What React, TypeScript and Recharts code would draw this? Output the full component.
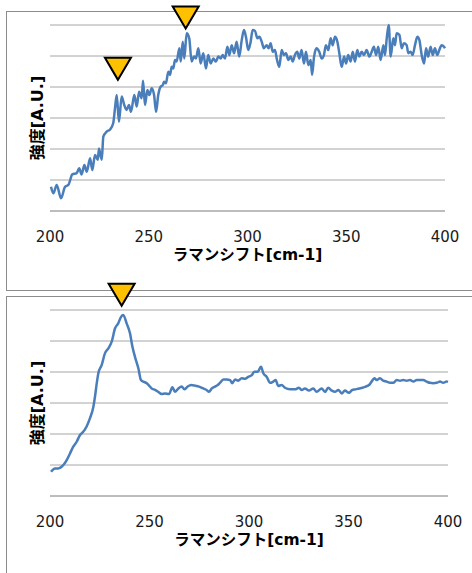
import React from 'react';
import { LineChart, Line, XAxis, YAxis, ReferenceLine, ReferenceDot, Label } from 'recharts';

const xTicks = [200, 250, 300, 350, 400];
const yTicks = [0, 1, 2, 3, 4, 5, 6];
const xTitle = 'ラマンシフト[cm-1]';
const yTitle = '強度[A.U.]';

// upper spectrum
const topShift = [
  200.5, 201.7, 203.4, 205.6, 207.6, 209.3, 211.3, 213.5, 214.8, 216.0, 217.4, 218.6, 220.3, 221.4, 222.8,
  224.2, 224.8, 226.2, 227.0, 228.7, 230.4, 232.0, 232.9, 233.8, 234.9, 236.3, 237.6, 238.8, 240.0, 241.0,
  242.7, 243.9, 245.1, 246.4, 247.1, 248.1, 249.3, 250.3, 251.5, 252.7, 253.7, 254.8, 256.0, 257.1, 257.7,
  258.7, 259.9, 260.8, 261.6, 262.4, 263.3, 264.1, 265.5, 266.2, 267.2, 268.0, 269.2, 270.5, 271.7, 272.9,
  273.9, 275.1, 276.3, 277.6, 279.0, 280.1, 281.4, 282.7, 284.0, 285.2, 286.4, 287.4, 288.6, 289.8, 290.8,
  292.0, 293.2, 294.5, 295.8, 297.1, 298.2, 299.2, 300.4, 301.6, 302.6, 303.8, 305.0, 306.0, 307.2, 308.3,
  309.7, 310.7, 311.7, 312.8, 313.9, 314.8, 316.1, 317.3, 318.5, 319.5, 320.7, 321.9, 322.9, 324.0, 325.2,
  326.2, 327.4, 328.6, 329.6, 330.8, 332.0, 332.7, 333.7, 335.0, 336.3, 337.6, 338.7, 339.7, 340.9, 342.1,
  343.1, 344.3, 345.5, 346.5, 347.7, 348.9, 349.9, 351.0, 352.2, 353.3, 354.4, 355.6, 356.6, 357.8, 359.0,
  360.3, 361.7, 362.9, 364.0, 365.1, 366.2, 367.4, 368.8, 369.6, 370.5, 371.5, 372.5, 373.8, 374.7, 375.5,
  376.9, 378.1, 379.2, 380.6, 381.4, 382.6, 383.6, 384.8, 386.0, 387.0, 388.2, 389.4, 390.4, 391.5, 392.7,
  393.8, 394.9, 396.1, 397.1, 398.3, 399.5, 400.0,
];
const topIntensity = [
  0.78, 0.57, 0.84, 0.41, 0.78, 0.84, 1.18, 1.22, 1.38, 1.18, 1.48, 1.27, 1.70, 1.32, 1.81,
  1.65, 2.02, 1.65, 2.40, 2.56, 2.63, 2.83, 3.31, 3.74, 2.88, 3.69, 3.42, 3.26, 3.42, 3.20,
  3.74, 3.37, 3.85, 3.64, 4.20, 3.42, 3.90, 3.74, 3.96, 3.74, 3.20, 3.74, 4.01, 4.06, 4.17,
  4.12, 4.49, 4.39, 4.65, 4.60, 4.87, 4.82, 5.25, 4.82, 5.46, 4.92, 5.73, 5.57, 4.82, 4.98,
  4.92, 5.25, 4.76, 5.09, 4.60, 5.03, 4.76, 4.92, 4.82, 4.98, 4.92, 5.03, 4.92, 5.30, 5.03,
  5.35, 5.09, 5.46, 4.98, 5.52, 5.84, 5.62, 5.19, 5.46, 5.84, 5.81, 5.57, 5.62, 5.46, 5.25,
  5.35, 5.25, 5.41, 5.14, 5.19, 4.92, 4.65, 5.19, 5.03, 5.09, 4.87, 4.98, 4.82, 5.03, 5.14,
  4.92, 5.19, 4.76, 5.14, 4.71, 4.87, 4.39, 4.98, 5.25, 5.14, 4.92, 5.03, 5.35, 5.19, 5.57,
  5.35, 5.62, 5.46, 5.09, 4.65, 4.98, 4.76, 5.03, 4.82, 5.14, 4.82, 5.19, 4.98, 5.14, 5.03,
  5.19, 4.98, 5.14, 5.30, 5.03, 5.30, 4.87, 5.35, 5.03, 5.57, 6.00, 4.98, 5.57, 5.35, 5.73,
  5.68, 5.25, 5.41, 5.35, 5.09, 5.14, 5.03, 5.35, 5.62, 5.52, 5.03, 4.76, 5.25, 4.98, 5.30,
  5.03, 5.25, 5.03, 5.19, 5.35, 5.30, 5.25,
];

// lower spectrum
const bottomShift = [
  200.5, 202.5, 204.2, 206.7, 208.4, 210.1, 211.7, 213.4, 215.1, 216.7, 218.4, 220.1, 221.8, 222.6, 223.5,
  224.3, 226.0, 227.6, 229.3, 231.0, 232.7, 234.3, 235.7, 236.8, 238.5, 240.2, 241.4, 242.7, 244.4, 245.7,
  246.9, 248.6, 251.1, 252.8, 254.4, 256.1, 257.8, 259.8, 261.5, 262.8, 264.5, 266.2, 267.5, 269.2, 270.9,
  272.9, 274.9, 277.0, 278.7, 279.9, 281.3, 282.9, 284.3, 285.4, 287.1, 288.8, 290.5, 291.6, 293.0, 294.6,
  296.3, 298.0, 299.6, 301.4, 302.7, 304.4, 306.0, 307.2, 308.9, 310.6, 312.2, 313.4, 314.7, 316.4, 318.1,
  320.6, 323.1, 325.1, 326.5, 328.1, 330.1, 332.3, 334.0, 336.5, 338.2, 339.8, 341.6, 343.2, 344.9, 346.6,
  348.2, 350.2, 351.9, 353.6, 355.3, 356.9, 358.6, 360.3, 361.6, 363.0, 364.2, 365.8, 367.5, 369.2, 370.9,
  372.5, 374.2, 375.9, 377.5, 379.2, 380.9, 382.6, 384.3, 385.9, 387.6, 389.3, 390.9, 392.6, 394.3, 396.0,
  397.6, 399.3, 400.0,
];
const bottomIntensity = [
  0.78, 0.89, 0.89, 1.00, 1.16, 1.38, 1.59, 1.75, 1.97, 2.07, 2.24, 2.51, 2.88, 3.20, 3.64,
  3.96, 4.23, 4.60, 4.76, 4.98, 5.41, 5.57, 5.78, 5.84, 5.57, 5.25, 4.82, 4.49, 4.12, 3.74,
  3.69, 3.64, 3.47, 3.42, 3.36, 3.29, 3.31, 3.29, 3.51, 3.36, 3.47, 3.53, 3.44, 3.53, 3.58,
  3.56, 3.53, 3.47, 3.42, 3.36, 3.47, 3.53, 3.58, 3.65, 3.76, 3.76, 3.74, 3.64, 3.76, 3.72,
  3.80, 3.78, 3.84, 3.90, 4.01, 4.01, 4.17, 3.96, 3.84, 3.65, 3.69, 3.74, 3.55, 3.58, 3.49,
  3.44, 3.44, 3.49, 3.42, 3.47, 3.40, 3.47, 3.36, 3.47, 3.36, 3.49, 3.40, 3.36, 3.42, 3.31,
  3.40, 3.33, 3.42, 3.44, 3.47, 3.49, 3.53, 3.58, 3.69, 3.80, 3.74, 3.80, 3.72, 3.69, 3.65,
  3.65, 3.74, 3.72, 3.74, 3.72, 3.74, 3.69, 3.74, 3.74, 3.74, 3.69, 3.65, 3.64, 3.65, 3.69,
  3.65, 3.69, 3.68,
];

// triangle markers (tip position)
const topMarkerX = [234.4, 268.7];
const topMarkerY = [4.23, 5.89];
const bottomMarkerX = [236.0];
const bottomMarkerY = [6.14];

const FONT = "'DejaVu Sans', 'Noto Sans CJK JP', sans-serif";
const GRID = '#A6A6A6';

const Triangle = (props: any) => {
  const { cx, cy } = props;
  if (cx == null || cy == null) return null;
  return (
    <path
      d={`M${cx},${cy} L${cx - 13},${cy - 22} L${cx + 13},${cy - 22} Z`}
      fill="#FFC000"
      stroke="#000"
      strokeWidth={2}
      strokeLinejoin="miter"
    />
  );
};

// rotated y title, centred 37px from the left edge of the chart
const YTitle = (props: any) => {
  const vb = props.viewBox || {};
  const cx = (vb.x ?? 0) + 37.5;
  const cy = (vb.y ?? 0) + (vb.height ?? 0) / 2;
  return (
    <text
      x={cx}
      y={cy}
      transform={`rotate(-90, ${cx}, ${cy})`}
      textAnchor="middle"
      dominantBaseline="central"
      fill="#000"
      fontWeight={700}
      fontSize={16}
      fontFamily={FONT}
    >
      {yTitle}
    </text>
  );
};

interface SpectrumProps {
  shift: number[];
  intensity: number[];
  markerX: number[];
  markerY: number[];
  height: number;
  margin: { top: number; right: number; bottom: number; left: number };
}

const Spectrum: React.FC<SpectrumProps> = ({ shift, intensity, markerX, markerY, height, margin }) => {
  const data = shift.map((x, i) => ({ x, y: intensity[i] }));
  return (
    <LineChart width={472} height={height} data={data} margin={margin}>
      <XAxis
        dataKey="x"
        type="number"
        domain={[200, 400]}
        ticks={xTicks}
        tickLine={false}
        tickSize={0}
        tickMargin={20}
        height={30}
        axisLine={{ stroke: GRID }}
        tick={{ fill: '#1a1a1a', fontSize: 15, fontFamily: FONT }}
      >
        <Label value={xTitle} position="bottom" offset={8} fill="#000" fontWeight={700} fontSize={15.5} fontFamily={FONT} />
      </XAxis>
      <YAxis
        type="number"
        domain={[0, 6]}
        ticks={yTicks}
        width={50}
        tick={false}
        tickLine={false}
        axisLine={false}
      >
        <Label content={YTitle} />
      </YAxis>
      {yTicks.map((v) => (
        <ReferenceLine key={v} y={v} stroke={GRID} strokeWidth={1} />
      ))}
      <Line
        type="monotone"
        dataKey="y"
        stroke="#4A7EBB"
        strokeWidth={2.5}
        dot={false}
        isAnimationActive={false}
      />
      {markerX.map((mx, i) => (
        <ReferenceDot key={i} x={mx} y={markerY[i]} ifOverflow="visible" shape={Triangle} />
      ))}
    </LineChart>
  );
};

export default function App() {
  return (
    <div
      style={{
        position: 'absolute',
        left: 0,
        top: 0,
        width: 472,
        height: 573,
        overflow: 'hidden',
        background: '#fff',
        fontFamily: FONT,
      }}
    >
      <div style={{ position: 'absolute', left: 6, top: 11, width: 480, height: 278, border: '1px solid #8C8C8C' }} />
      <div style={{ position: 'absolute', left: 6, top: 296, width: 480, height: 300, border: '1px solid #8C8C8C' }} />
      <div style={{ position: 'absolute', left: 0, top: 0 }}>
        <Spectrum
          shift={topShift}
          intensity={topIntensity}
          markerX={topMarkerX}
          markerY={topMarkerY}
          height={290}
          margin={{ top: 25, right: 27, bottom: 49, left: 0 }}
        />
      </div>
      <div style={{ position: 'absolute', left: 0, top: 270 }}>
        <Spectrum
          shift={bottomShift}
          intensity={bottomIntensity}
          markerX={bottomMarkerX}
          markerY={bottomMarkerY}
          height={303}
          margin={{ top: 40, right: 24, bottom: 47, left: 0 }}
        />
      </div>
    </div>
  );
}
